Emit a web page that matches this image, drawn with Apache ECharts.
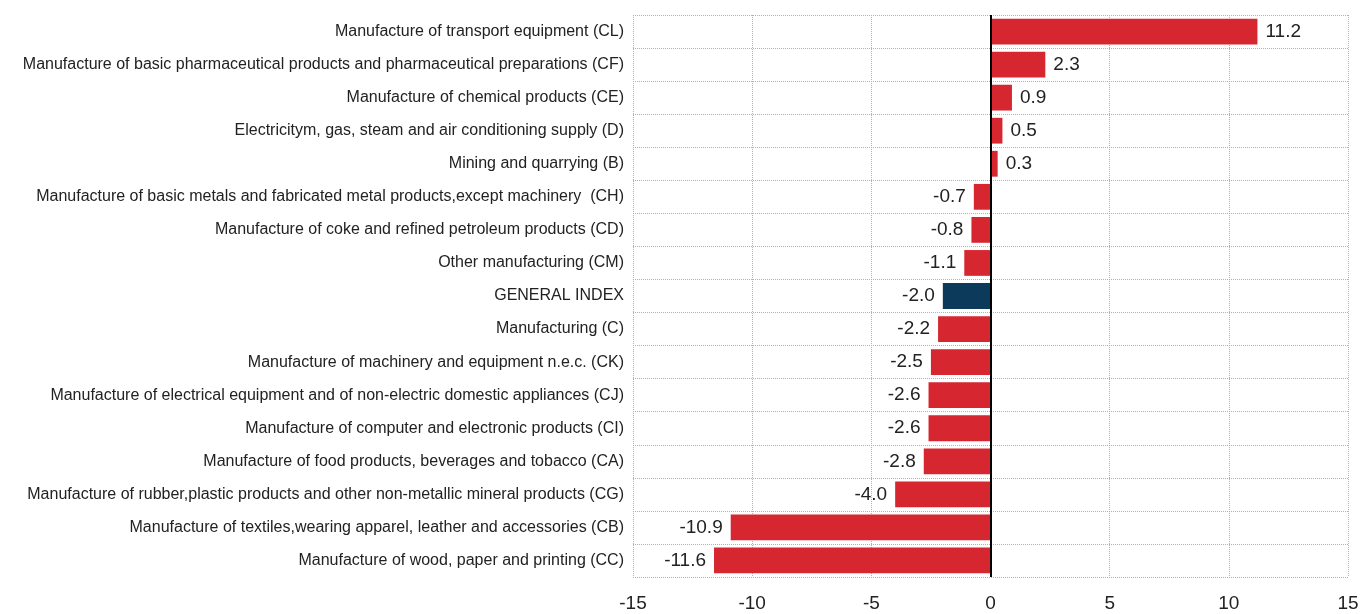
<!DOCTYPE html>
<html>
<head>
<meta charset="utf-8">
<script src="https://cdn.jsdelivr.net/npm/echarts@6/dist/echarts.min.js"></script>
<style>
html,body{margin:0;padding:0;background:#fff;}
#chart{width:1364px;height:614px;}
</style>
</head>
<body>
<div id="chart"></div>
<script>
// categories, top to bottom
var categories = [
	"Manufacture of transport equipment (CL)",
	"Manufacture of basic pharmaceutical products and pharmaceutical preparations (CF)",
	"Manufacture of chemical products (CE)",
	"Electricitym, gas, steam and air conditioning supply (D)",
	"Mining and quarrying (B)",
	"Manufacture of basic metals and fabricated metal products,except machinery  (CH)",
	"Manufacture of coke and refined petroleum products (CD)",
	"Other manufacturing (CM)",
	"GENERAL INDEX",
	"Manufacturing (C)",
	"Manufacture of machinery and equipment n.e.c. (CK)",
	"Manufacture of electrical equipment and of non-electric domestic appliances (CJ)",
	"Manufacture of computer and electronic products (CI)",
	"Manufacture of food products, beverages and tobacco (CA)",
	"Manufacture of rubber,plastic products and other non-metallic mineral products (CG)",
	"Manufacture of textiles,wearing apparel, leather and accessories (CB)",
	"Manufacture of wood, paper and printing (CC)"
];
var values = [11.2, 2.3, 0.9, 0.5, 0.3, -0.7, -0.8, -1.1, -2.0, -2.2, -2.5, -2.6, -2.6, -2.8, -4.0, -10.9, -11.6];
var xTicks = [-15, -10, -5, 0, 5, 10, 15];

var font = "'Liberation Sans Narrow', 'Arial Narrow', 'Liberation Sans', sans-serif";

var seriesData = values.map(function(v, i){
	var isTotal = categories[i] === "GENERAL INDEX";
	return {
		value: v,
		itemStyle: { color: isTotal ? "#0b3a5a" : "#d62630" },
		label: { position: v >= 0 ? "right" : "left" }
	};
});

var chart = echarts.init(document.getElementById("chart"));
var option = {
	animation: false,
	grid: { left: 633, right: 16, top: 15, bottom: 37, containLabel: false },
	xAxis: {
		type: "value",
		min: xTicks[0],
		max: xTicks[xTicks.length - 1],
		interval: 5,
		axisLine: { show: false },
		axisTick: { show: false },
		axisLabel: { fontFamily: font, fontSize: 19, color: "#222", margin: 17 },
		splitLine: { show: true, lineStyle: { type: "dotted", color: "#b0b0b0" } }
	},
	yAxis: {
		type: "category",
		inverse: true,
		data: categories,
		axisLine: { show: false },
		axisTick: { show: false },
		axisLabel: { fontFamily: font, fontSize: 16, color: "#222", margin: 9 },
		splitLine: { show: true, lineStyle: { type: "dotted", color: "#b0b0b0" } }
	},
	series: [{
		type: "bar",
		data: seriesData,
		barCategoryGap: "22%",
		label: {
			show: true,
			fontFamily: font,
			fontSize: 19,
			color: "#222",
			distance: 8,
			formatter: function(p){ return p.value.toFixed(1); }
		},
		markLine: {
			silent: true,
			symbol: "none",
			label: { show: false },
			lineStyle: { color: "#000", width: 2, type: "solid" },
			data: [{ xAxis: 0 }]
		}
	}]
};
chart.setOption(option);
</script>
</body>
</html>
